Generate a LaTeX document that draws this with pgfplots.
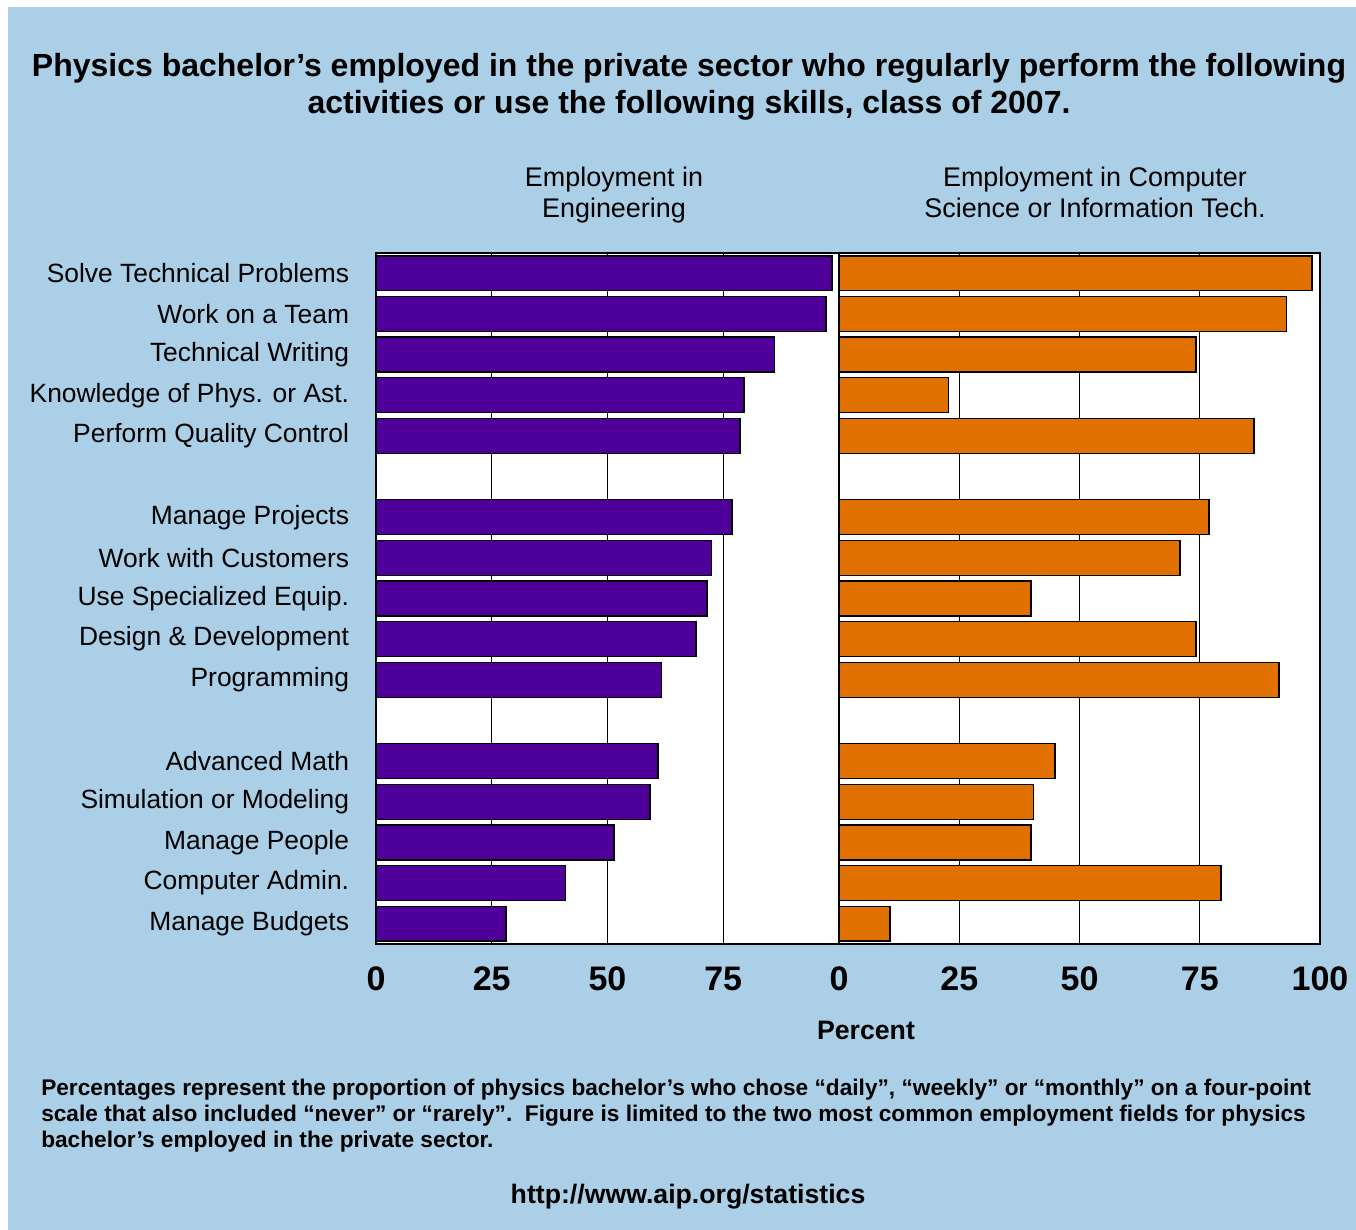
\documentclass[border=0pt]{standalone}
\usepackage{pgfplots}
\usepackage{pgfplotstable}
\pgfplotsset{compat=1.18}
\usepackage{fontspec}
\setmainfont{Liberation Sans}
\definecolor{bgblue}{RGB}{170,207,230}
\definecolor{barpurple}{RGB}{80,0,154}
\definecolor{barorange}{RGB}{224,112,0}

\pgfplotstableread{
y eng cs
0 98.5 98.3
1 97.2 93.1
2 86.0 74.2
3 79.5 22.7
4 78.6 86.3
6 76.9 76.9
7 72.4 70.9
8 71.5 39.9
9 69.1 74.2
10 61.6 91.5
12 60.9 44.9
13 59.2 40.5
14 51.4 39.9
15 41.0 79.4
16 28.1 10.6
}\data

\pgfplotsset{panel/.style={
  scale only axis, height=518.25pt,
  xmin=0, xmax=100, ymin=-0.5, ymax=16.5, y dir=reverse,
  axis background/.style={fill=white},
  xbar, bar shift=0pt, bar width=0.86,
  xmajorgrids, major grid style={black, line width=0.75pt},
  major tick length=0pt,
  axis line style={line width=2pt},
  /pgf/number format/assume math mode=true,
  xticklabel style={font=\fontsize{25.5}{25.5}\selectfont\bfseries, anchor=center, yshift=-26.25pt, inner sep=0pt},
}}

\begin{document}
\begin{tikzpicture}[x=0.75pt,y=0.75pt]
\fill[white] (0,0) rectangle (1356,1230);
\fill[bgblue] (8,0) rectangle (1356,1223);

\begin{scope}[every node/.style={anchor=base, inner sep=0pt, font=\fontsize{24}{24}\selectfont\bfseries}]
\node at (689,1153.5) {Physics bachelor’s employed in the private sector who regularly perform the following};
\node at (689,1116.5) {activities or use the following skills, class of 2007.};
\end{scope}

\begin{scope}[every node/.style={anchor=base, inner sep=0pt, font=\fontsize{20.2}{20.2}\selectfont}]
\node at (614,1043) {Employment in};
\node at (614,1012) {Engineering};
\node at (1095,1043) {Employment in Computer};
\node at (1095,1012) {Science or Information Tech.};
\end{scope}

\begin{axis}[panel, at={(282pt,214.5pt)}, anchor=south west, width=347.25pt,
  xtick={0,25,50,75},
  ytick={0,1,2,3,4,6,7,8,9,10,12,13,14,15,16},
  yticklabels={Solve Technical Problems, Work on a Team, Technical Writing, Knowledge of Phys. or Ast., Perform Quality Control, Manage Projects, Work with Customers, Use Specialized Equip., Design \& Development, Programming, Advanced Math, Simulation or Modeling, Manage People, Computer Admin., Manage Budgets},
  yticklabel style={font=\fontsize{19.8}{19.8}\selectfont, anchor=east, inner sep=0pt, xshift=-20pt},
]
\addplot[fill=barpurple, draw=black, line width=1pt] table[x=eng, y=y]{\data};
\end{axis}

\begin{axis}[panel, at={(629.25pt,214.5pt)}, anchor=south west, width=360.75pt,
  xtick={0,25,50,75,100}, ytick=\empty,
]
\addplot[fill=barorange, draw=black, line width=1pt] table[x=cs, y=y]{\data};
\end{axis}

\node[font=\fontsize{20}{20}\selectfont\bfseries] at (866,200) {Percent};

\node[anchor=north west, inner sep=0pt, align=left, font=\fontsize{17}{19.5}\selectfont\bfseries] at (41,151)
  {Percentages represent the proportion of physics bachelor’s who chose “daily”, “weekly” or “monthly” on a four-point\\scale that also included “never” or “rarely”.\ \ Figure is limited to the two most common employment fields for physics\\bachelor’s employed in the private sector.};

\node[font=\fontsize{20}{20}\selectfont\bfseries] at (688,33) {http://www.aip.org/statistics};
\end{tikzpicture}
\end{document}
